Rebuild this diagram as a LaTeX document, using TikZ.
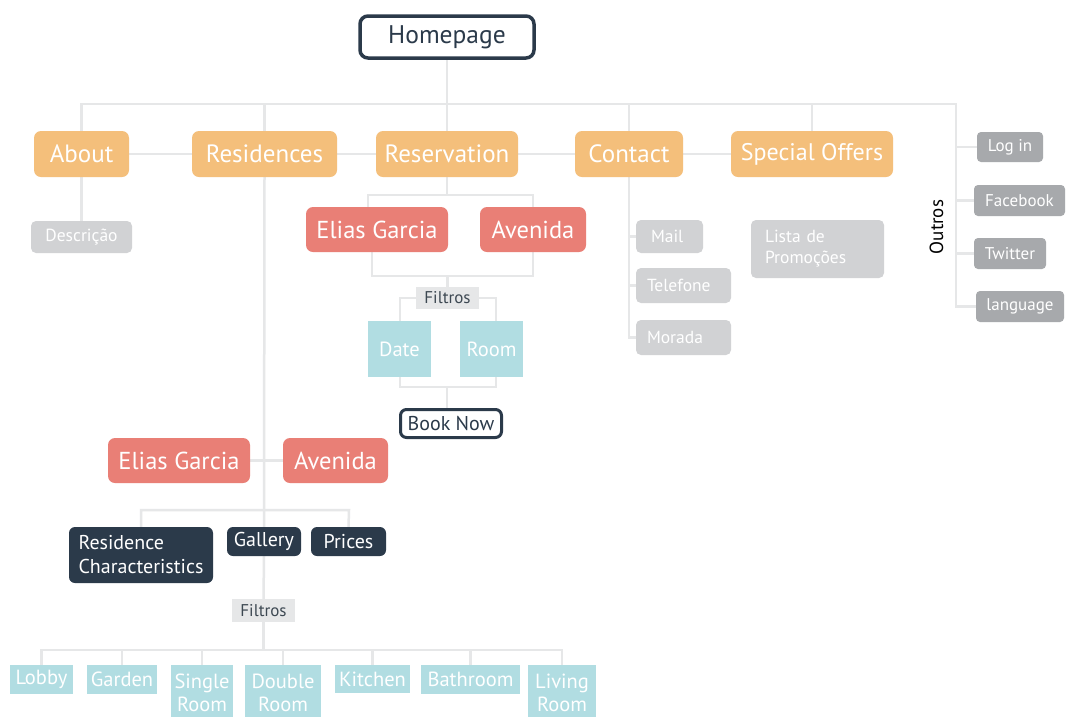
\documentclass[tikz,border=0pt]{standalone}
\usepackage{fontspec}
\setmainfont{PT Sans}
\usetikzlibrary{backgrounds}
\definecolor{navy}{HTML}{2B3A4A}
\definecolor{orng}{HTML}{F4BF7B}
\definecolor{salmon}{HTML}{E97F76}
\definecolor{lblue}{HTML}{B1DDE2}
\definecolor{lgray}{HTML}{D1D2D4}
\definecolor{mgray}{HTML}{A7A9AC}
\definecolor{linec}{HTML}{E6E7E8}
\definecolor{filtc}{HTML}{E6E7E8}
\definecolor{filttxt}{HTML}{3D4852}
\tikzset{
  box/.style={inner sep=0pt, align=center, text=white},
  homebox/.style={box, draw=navy, line width=3.5pt, fill=white, text=navy, rounded corners=8pt, font=\fontsize{25.5}{28}\selectfont},
  booknow/.style={box, draw=navy, line width=3pt, fill=white, text=navy, rounded corners=6pt, font=\fontsize{20}{22}\selectfont},
  lvlone/.style={box, fill=orng, rounded corners=7pt, font=\fontsize{25}{28}\selectfont},
  resid/.style={box, fill=salmon, rounded corners=7pt, font=\fontsize{24.5}{28}\selectfont},
  darkbox/.style={box, fill=navy, rounded corners=6pt, font=\fontsize{20}{24}\selectfont},
  lightgray/.style={box, fill=lgray, rounded corners=5pt, font=\fontsize{17.5}{21}\selectfont},
  midgray/.style={box, fill=mgray, rounded corners=4pt, font=\fontsize{17}{21}\selectfont},
  filterbox/.style={box, fill=filtc, text=filttxt, font=\fontsize{17}{18}\selectfont},
  bluebox/.style={box, fill=lblue, font=\fontsize{20.5}{23}\selectfont},
  conn/.style={draw=linec, line width=2.5pt},
}
\begin{document}
\begin{tikzpicture}[x=1pt,y=-1pt]
\useasboundingbox (0,0) rectangle (1068,716);

% top
\node[homebox, minimum width=174, minimum height=42] (home) at (447,37) {Homepage};
\node[lvlone, minimum width=95, minimum height=46] (about) at (81.5,154) {About};
\node[lvlone, minimum width=145, minimum height=46] (res) at (264.5,154) {Residences};
\node[lvlone, minimum width=142, minimum height=46] (resv) at (447,154) {Reservation};
\node[lvlone, minimum width=108, minimum height=46] (contact) at (629,154) {Contact};
\node[lvlone, minimum width=162, minimum height=46, font=\fontsize{24}{28}\selectfont] (special) at (812,154) {Special Offers};

\node[lightgray, minimum width=101, minimum height=32] (desc) at (81.5,237) {Descrição};

% reservation branch
\node[resid, minimum width=142, minimum height=45] (eg1) at (377,229.5) {Elias Garcia};
\node[resid, minimum width=106, minimum height=45] (av1) at (533,229.5) {Avenida};
\node[filterbox, minimum width=63, minimum height=22] (filt1) at (447.5,298) {Filtros};
\node[bluebox, minimum width=63, minimum height=56] (date) at (399.5,349) {Date};
\node[bluebox, minimum width=63, minimum height=56] (room) at (491.5,349) {Room};
\node[booknow, minimum width=101, minimum height=28] (book) at (451,423.5) {Book Now};

% contact branch
\node[lightgray, minimum width=67, minimum height=33, text width=37pt, align=left] (mail) at (669.5,236.5) {Mail};
\node[lightgray, minimum width=95, minimum height=35, text width=73pt, align=left] (tel) at (683.5,285.5) {Telefone};
\node[lightgray, minimum width=95, minimum height=35, text width=73pt, align=left] (morada) at (683.5,337.5) {Morada};
\node[lightgray, minimum width=133, minimum height=58, text width=105pt, align=left] (lista) at (817.5,249) {Lista de\\Promoções};

% outros
\node[rotate=90, text=black, font=\fontsize{19}{22}\selectfont, inner sep=0pt] (outros) at (936.5,227) {Outros};
\node[midgray, minimum width=66, minimum height=30] (login) at (1010,147) {Log in};
\node[midgray, minimum width=91, minimum height=31] (fb) at (1019.5,200.5) {Facebook};
\node[midgray, minimum width=72, minimum height=31] (tw) at (1010,253.5) {Twitter};
\node[midgray, minimum width=88, minimum height=31] (lang) at (1020,306.5) {language};

% residences branch
\node[resid, minimum width=142, minimum height=45] (eg2) at (179,460.5) {Elias Garcia};
\node[resid, minimum width=105, minimum height=45] (av2) at (335.5,460.5) {Avenida};
\node[darkbox, minimum width=144, minimum height=56, align=left] (rc) at (141,555) {Residence\\Characteristics};
\node[darkbox, minimum width=74, minimum height=29] (gal) at (264,541.5) {Gallery};
\node[darkbox, minimum width=75, minimum height=29] (prices) at (348.5,541.5) {Prices};
\node[filterbox, minimum width=63, minimum height=23] (filt2) at (263.5,610.5) {Filtros};

\node[bluebox, minimum width=63, minimum height=29] (lobby) at (41.5,679.5) {Lobby};
\node[bluebox, minimum width=70, minimum height=29] (garden) at (122,679.5) {Garden};
\node[bluebox, minimum width=62, minimum height=55] (single) at (202,692.5) {Single\\Room};
\node[bluebox, minimum width=76, minimum height=55] (double) at (283,692.5) {Double\\Room};
\node[bluebox, minimum width=75, minimum height=28] (kitchen) at (372.5,679) {Kitchen};
\node[bluebox, minimum width=99, minimum height=29] (bath) at (470.5,679.5) {Bathroom};
\node[bluebox, minimum width=68, minimum height=55] (living) at (562,692.5) {Living\\Room};

\begin{pgfonlayer}{background}
  \fill[white] (0,0) rectangle (1068,716);
  % top bus
  \coordinate (busR) at (956,104);
  \draw[conn] (home.south) -- (resv.north);
  \draw[conn] (about.north) |- (busR) |- (lang.west);
  \draw[conn] (res.north) -- (res.north |- busR);
  \draw[conn] (contact.north) -- (contact.north |- busR);
  \draw[conn] (special.north) -- (special.north |- busR);
  \draw[conn] (busR |- login) -- (login.west);
  \draw[conn] (busR |- fb) -- (fb.west);
  \draw[conn] (busR |- tw) -- (tw.west);
  \draw[conn] (about) -- (special);
  \draw[conn] (about) -- (desc);
  % reservation
  \coordinate (r1) at (368,195);
  \coordinate (r2) at (533,195);
  \coordinate (r3) at (372,276);
  \coordinate (r4) at (533,276);
  \draw[conn] (resv.south) -- (resv.south |- r1);
  \draw[conn] (r1 |- eg1.north) -- (r1) -- (r2) -- (av1.north);
  \draw[conn] (r3 |- eg1.south) -- (r3) -- (r4) -- (av1.south);
  \draw[conn] (filt1.north) -- (filt1.north |- r3);
  \coordinate (f1) at (400,298);
  \coordinate (f2) at (496,298);
  \draw[conn] (filt1.west) -- (f1) -- (f1 |- date.north);
  \draw[conn] (filt1.east) -- (f2) -- (f2 |- room.north);
  \coordinate (d1) at (400,387);
  \coordinate (d2) at (496,387);
  \coordinate (d3) at (447,387);
  \draw[conn] (d1 |- date.south) -- (d1) -- (d2) -- (d2 |- room.south);
  \draw[conn] (d3) -- (d3 |- book.north);
  % contact
  \draw[conn] (contact.south) -- (contact.south |- morada) -- (morada.west);
  \draw[conn] (contact.south |- mail) -- (mail.west);
  \draw[conn] (contact.south |- tel) -- (tel.west);
  % residences
  \coordinate (s0) at (142,510);
  \coordinate (s2) at (349,510);
  \draw[conn] (res.south) -- (gal.north);
  \draw[conn] (eg2) -- (av2);
  \draw[conn] (rc.north) -- (rc.north |- s0) -- (s2) -- (prices.north);
  \draw[conn] (gal.south) -- (filt2.north);
  \coordinate (b0) at (42,650);
  \coordinate (b6) at (562,650);
  \draw[conn] (filt2.south) -- (filt2.south |- b0);
  \draw[conn] (lobby.north) -- (lobby.north |- b0) -- (b6) -- (living.north);
  \draw[conn] (garden.north) -- (garden.north |- b0);
  \draw[conn] (single.north) -- (single.north |- b0);
  \draw[conn] (double.north) -- (double.north |- b0);
  \draw[conn] (kitchen.north) -- (kitchen.north |- b0);
  \draw[conn] (bath.north) -- (bath.north |- b0);
\end{pgfonlayer}
\end{tikzpicture}
\end{document}
